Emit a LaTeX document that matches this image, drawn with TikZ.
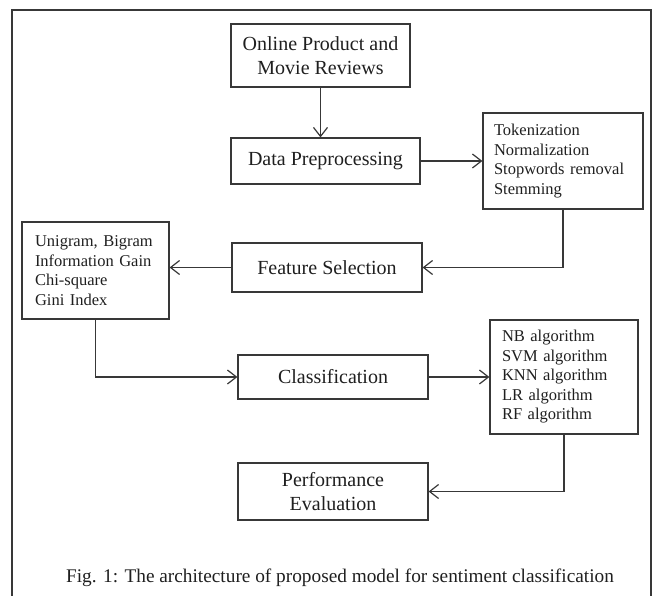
\documentclass[tikz,border=0pt]{standalone}
\usepackage{fontspec}
\setmainfont{Liberation Serif}
\usetikzlibrary{arrows.meta}
\definecolor{linec}{gray}{0.22}
\definecolor{txtc}{gray}{0.12}
\begin{document}
\begin{tikzpicture}[x=1pt,y=-1pt,
  box/.style={draw=linec, line width=1.2pt, inner sep=0pt, align=center, text=txtc,
    font=\fontsize{20}{24}\selectfont},
  listbox/.style={draw=linec, line width=1.2pt, inner ysep=0pt, align=left, text=txtc,
    font=\fontsize{16.5}{19.5}\selectfont},
  conn/.style={draw=linec, line width=1.2pt},
  arr/.style={conn, -{Straight Barb[length=9pt,width=14pt,line width=1.2pt]}}]
\useasboundingbox (0,0) rectangle (653,596);
% outer frame (open at bottom)
\coordinate (fbl) at (12,596);
\coordinate (ftl) at (12,10);
\coordinate (ftr) at (651,10);
\coordinate (fbr) at (651,596);
\draw[conn] (fbl) -- (ftl) -- (ftr) -- (fbr);
% boxes
\node[box, minimum width=179pt, minimum height=63pt] (src) at (320.5,55.5) {Online Product and\\Movie Reviews};
\node[box, minimum width=189pt, minimum height=46pt] (dp) at (325.5,161) {Data Preprocessing};
\node[listbox, minimum height=96pt, text width=138pt, inner xsep=11pt] (tok) at (563,161)
  {Tokenization\\Normalization\\Stopwords removal\\Stemming};
\node[box, minimum width=190pt, minimum height=49pt] (fs) at (327,267.5) {Feature Selection};
\node[listbox, minimum height=97pt, text width=121pt, inner xsep=13pt] (uni) at (95.5,270.5)
  {Unigram, Bigram\\Information Gain\\Chi-square\\Gini Index};
\node[box, minimum width=190pt, minimum height=44pt] (cls) at (333,377) {Classification};
\node[listbox, minimum height=114pt, text width=124pt, inner xsep=12pt] (nb) at (564,377)
  {NB algorithm\\SVM algorithm\\KNN algorithm\\LR algorithm\\RF algorithm};
\node[box, minimum width=190pt, minimum height=57pt] (perf) at (333,491.5) {Performance\\Evaluation};
\node[text=txtc, font=\fontsize{19.3}{23}\selectfont] (cap) at (340,578)
  {Fig. 1: The architecture of proposed model for sentiment classification};
% connectors
\draw[arr] (src.south) -- (src.south |- dp.north);
\draw[arr] (dp.east) -- (dp.east -| tok.west);
\draw[arr] (tok.south) |- (fs.east);
\draw[arr] (fs.west) -- (fs.west -| uni.east);
\draw[arr] (uni.south) |- (cls.west);
\draw[arr] (cls.east) -- (cls.east -| nb.west);
\draw[arr] (nb.south) |- (perf.east);
\end{tikzpicture}
\end{document}
